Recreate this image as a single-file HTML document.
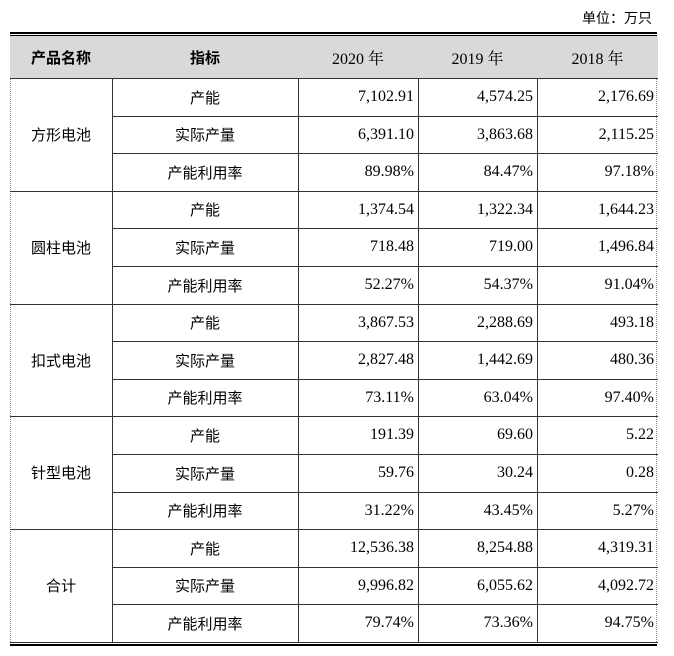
<!DOCTYPE html>
<html><head><meta charset="utf-8"><style>
body{margin:0;width:674px;height:656px;background:#fff;position:relative;overflow:hidden;font-family:"Liberation Serif","Noto Serif CJK SC",serif;color:#000}
.c{position:absolute;box-sizing:border-box;display:flex;align-items:center;font-size:15px;border-right:1px solid #333;border-bottom:1px solid #333}
.zh{font-family:"Liberation Sans","Noto Sans CJK SC",sans-serif;justify-content:center}
.n{justify-content:flex-end;padding-right:4px;font-size:16px}
.h{background:#d9d9d9;justify-content:center;font-size:16px}
.h.zh{font-weight:bold;font-size:15px}
</style></head><body>
<div style="position:absolute;right:22px;top:8px;font-size:14px;font-family:'Liberation Sans','Noto Sans CJK SC',sans-serif">单位：万只</div>
<div style="position:absolute;left:10px;top:32px;width:647px;height:2px;background:#000"></div>
<div style="position:absolute;left:10px;top:35px;width:647px;height:1px;background:#000"></div>
<div style="position:absolute;left:10px;top:642px;width:647px;height:1px;background:#000"></div>
<div style="position:absolute;left:10px;top:644px;width:647px;height:2px;background:#000"></div>
<div style="position:absolute;left:10px;top:36px;width:0;height:606px;border-left:1px dotted #888"></div>
<div style="position:absolute;left:656px;top:36px;width:0;height:606px;border-left:1px dotted #888"></div>
<div id="t"></div>
<script>
var cols=[10,112,298,418,537,657];
var H=[["产品名称","指标","2020 年","2019 年","2018 年"]];
var g=[["方形电池",[["产能","7,102.91","4,574.25","2,176.69"],["实际产量","6,391.10","3,863.68","2,115.25"],["产能利用率","89.98%","84.47%","97.18%"]]],
["圆柱电池",[["产能","1,374.54","1,322.34","1,644.23"],["实际产量","718.48","719.00","1,496.84"],["产能利用率","52.27%","54.37%","91.04%"]]],
["扣式电池",[["产能","3,867.53","2,288.69","493.18"],["实际产量","2,827.48","1,442.69","480.36"],["产能利用率","73.11%","63.04%","97.40%"]]],
["针型电池",[["产能","191.39","69.60","5.22"],["实际产量","59.76","30.24","0.28"],["产能利用率","31.22%","43.45%","5.27%"]]],
["合计",[["产能","12,536.38","8,254.88","4,319.31"],["实际产量","9,996.82","6,055.62","4,092.72"],["产能利用率","79.74%","73.36%","94.75%"]]]];
var s="";
function cell(x0,x1,y0,y1,cls,txt,last){s+='<div class="c '+cls+'" style="left:'+x0+'px;top:'+y0+'px;width:'+(x1-x0+1)+'px;height:'+(y1-y0+1)+'px;'+(last?'border-right:none;':'')+'">'+txt+'</div>';}
for(var i=0;i<5;i++){cell(cols[i],cols[i+1],36,78,'h'+(i<2?' zh':''),H[0][i],i==4);}
var rh=(642-78)/15;
g.forEach(function(gr,gi){
 var y0=78+gi*3*rh;
 cell(10,112,Math.round(y0),Math.round(y0+3*rh),'zh',gr[0]);
 gr[1].forEach(function(r,ri){
  var a=Math.round(y0+ri*rh),b=Math.round(y0+(ri+1)*rh);
  cell(112,298,a,b,'zh',r[0]);
  for(var k=1;k<4;k++)cell(cols[k+1],cols[k+2],a,b,'n',r[k],k==3);
 });
});
document.getElementById('t').innerHTML=s;
</script>
</body></html>
